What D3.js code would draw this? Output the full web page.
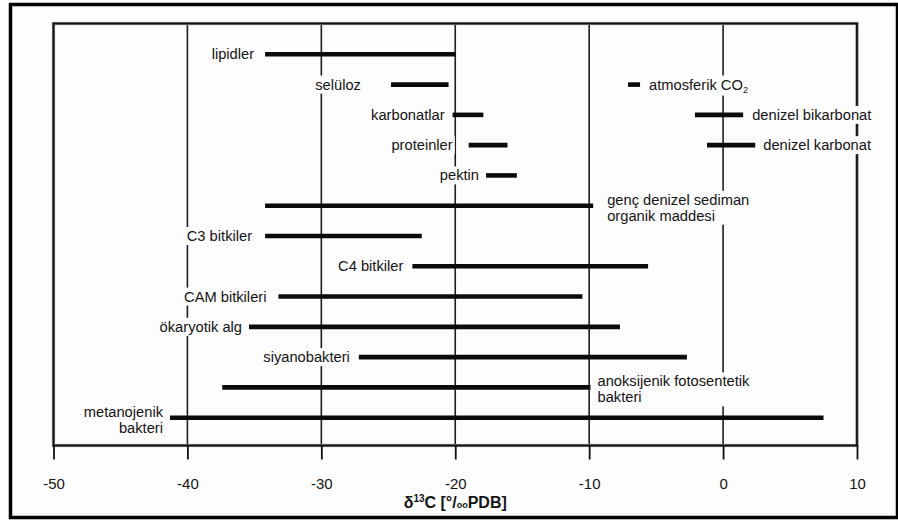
<!DOCTYPE html>
<html>
<head>
<meta charset="utf-8">
<script src="https://cdn.jsdelivr.net/npm/d3@7"></script>
<style>
  html, body { margin: 0; padding: 0; background: #fdfdfd; }
  svg { display: block; }
  text { font-family: "Liberation Sans", Arial, Helvetica, sans-serif; fill: #141414; }
</style>
</head>
<body>
<svg id="chart" width="898" height="520"></svg>
<script>
// δ13C ranges of carbon reservoirs and organisms (‰ vs PDB)
const labels = [
  "lipidler", "selüloz", "karbonatlar", "proteinler", "pektin",
  "atmosferik CO₂", "denizel bikarbonat", "denizel karbonat",
  "genç denizel sediman\norganik maddesi",
  "C3 bitkiler", "C4 bitkiler", "CAM bitkileri", "ökaryotik alg",
  "siyanobakteri", "anoksijenik fotosentetik\nbakteri", "metanojenik\nbakteri"
];
const lows  = [-34.2, -24.8, -20.2, -19.0, -17.7, -7.1, -2.1, -1.2, -34.2, -34.2, -23.2, -33.2, -35.4, -27.2, -37.4, -41.3];
const highs = [-20.0, -20.5, -17.9, -16.1, -15.4, -6.2,  1.5,  2.4,  -9.7, -22.5,  -5.6, -10.5,  -7.7,  -2.7,  -9.9,   7.5];
// row each range sits on (some short ranges share a row)
const rowIndex = [0, 1, 2, 3, 4, 1, 2, 3, 5, 6, 7, 8, 9, 10, 11, 12];
const tickValues = [-50, -40, -30, -20, -10, 0, 10];

// label layout: which end of the bar, and gap in px
const labelSide = ["L", "L", "L", "L", "L", "R", "R", "R", "R", "L", "L", "L", "L", "L", "R", "L"];
const labelGap  = [11, 30, 8, 16, 7, 9, 9, 8, 14, 13, 9, 12, 7, 9, 7, 7];

const svg = d3.select("#chart");
const W = 898, H = 520;
const plot = { left: 53.5, right: 857, top: 23.5, bottom: 445.5 };

const x = d3.scaleLinear().domain([-50, 10]).range([plot.left, plot.right]);
const y = d3.scalePoint().domain(d3.range(13)).range([54.3, 417.7]);

// outer frame
svg.append("rect").attr("x", 0).attr("y", 0).attr("width", W).attr("height", H).attr("fill", "#fdfdfd");
svg.append("rect")
  .attr("x", 10.5).attr("y", 4.5).attr("width", 887).attr("height", 513)
  .attr("fill", "none").attr("stroke", "#000").attr("stroke-width", 3.5);

// vertical grid lines
svg.append("g").selectAll("line")
  .data(tickValues.slice(1, -1))
  .join("line")
  .attr("x1", d => x(d)).attr("x2", d => x(d))
  .attr("y1", plot.top).attr("y2", plot.bottom)
  .attr("stroke", "#1e1e1e").attr("stroke-width", 1.6);

// plot frame (with a soft grey edge)
svg.append("rect")
  .attr("x", plot.left).attr("y", plot.top)
  .attr("width", plot.right - plot.left).attr("height", plot.bottom - plot.top)
  .attr("fill", "none").attr("stroke", "#888").attr("stroke-width", 3.2);
svg.append("rect")
  .attr("x", plot.left).attr("y", plot.top)
  .attr("width", plot.right - plot.left).attr("height", plot.bottom - plot.top)
  .attr("fill", "none").attr("stroke", "#111").attr("stroke-width", 1.8);

// x axis ticks below the frame
const axis = d3.axisBottom(x)
  .tickValues(tickValues)
  .tickSize(14)
  .tickPadding(19)
  .tickFormat(d => String(d));
const gx = svg.append("g").attr("transform", `translate(0,${plot.bottom})`).call(axis);
gx.select(".domain").remove();
gx.selectAll(".tick line").attr("stroke", "#111").attr("stroke-width", 1.8);
gx.selectAll(".tick text")
  .attr("font-size", 15).attr("fill", "#141414")
  .style("font-family", "'Liberation Sans', Arial, sans-serif");

// axis title: δ¹³C [°/ₒₒPDB]
const title = svg.append("text")
  .attr("x", x(-20)).attr("y", 507.5)
  .attr("text-anchor", "middle")
  .attr("font-size", 16).attr("font-weight", "bold");
title.append("tspan").text("δ");
title.append("tspan").attr("font-size", 10).attr("dy", -6).text("13");
title.append("tspan").attr("dy", 6).text("C [°/");
title.append("tspan").attr("font-size", 9).text("oo");
title.append("tspan").text("PDB]");

// labels with white knock-out boxes, then bars
const items = labels.map((lab, i) => ({
  lab, lo: lows[i], hi: highs[i], row: rowIndex[i], side: labelSide[i], gap: labelGap[i]
}));

const labelLayer = svg.append("g");
items.forEach(d => {
  const yc = y(d.row);
  const lines = d.lab.split("\n");
  const isLeft = d.side === "L";
  const tx = isLeft ? x(d.lo) - d.gap : x(d.hi) + d.gap;
  const g = labelLayer.append("g");
  const bg = g.append("rect").attr("fill", "#fdfdfd");
  const t = g.append("text")
    .attr("font-size", 14.7)
    .attr("text-anchor", isLeft ? "end" : "start");
  lines.forEach((ln, k) => {
    // first line sits on the bar; a second line drops below it
    const base = lines.length === 1 ? yc + 5 : yc - 1 + k * 16;
    const parts = ln.split("₂");
    t.append("tspan").attr("x", tx).attr("y", base).text(parts[0]);
    if (parts.length > 1) {
      t.append("tspan").attr("font-size", 9).attr("dy", 3).text("2");
    }
  });
  const bb = t.node().getBBox();
  bg.attr("x", bb.x - 2).attr("y", bb.y - 1)
    .attr("width", bb.width + 4).attr("height", bb.height + 2);
});

svg.append("g").selectAll("line")
  .data(items)
  .join("line")
  .attr("x1", d => x(d.lo)).attr("x2", d => x(d.hi))
  .attr("y1", d => y(d.row)).attr("y2", d => y(d.row))
  .attr("stroke", "#0b0b0b").attr("stroke-width", 4.6);
</script>
</body>
</html>
